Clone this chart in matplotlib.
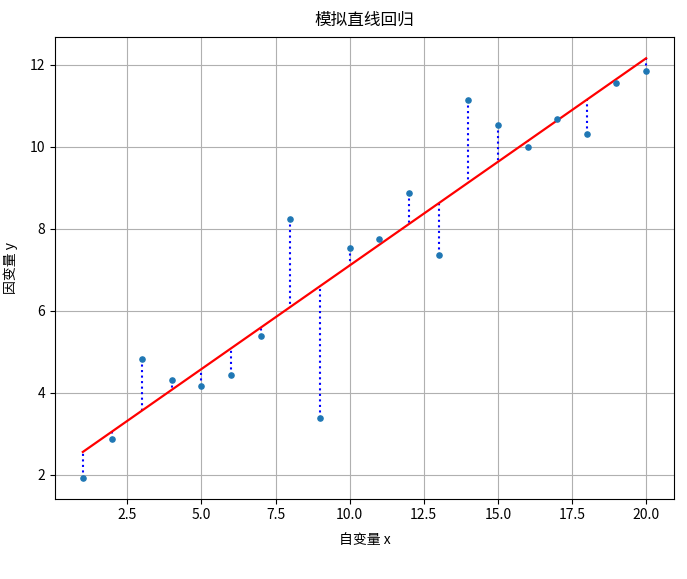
import numpy as np
import matplotlib
matplotlib.use("Agg")
import matplotlib.pyplot as plt

plt.rcParams['font.family'] = ['Noto Sans CJK SC', 'DejaVu Sans']
plt.rcParams['axes.unicode_minus'] = False

x = np.arange(1, 21)
y = np.array([1.93, 2.88, 4.83, 4.31, 4.17, 4.44, 5.38, 8.24, 3.38, 7.54,
              7.75, 8.88, 7.36, 11.13, 10.52, 9.98, 10.68, 10.30, 11.56, 11.85])

title = "模拟直线回归"
xlabel = "自变量 x"
ylabel = "因变量 y"

slope, intercept = np.polyfit(x, y, 1)
y_fit = slope * x + intercept

fig = plt.figure(figsize=(6.87, 5.79), dpi=100)
ax = fig.add_axes([0.0796, 0.139, 0.9019, 0.7966])

for xi, yi, fi in zip(x, y, y_fit):
    ax.plot([xi, xi], [yi, fi], 'b:', linewidth=1.5)
ax.plot(x, y_fit, 'r-', linewidth=1.6)
ax.scatter(x, y, s=14, color='#1f77b4', zorder=3)

ax.grid(True, color='#b0b0b0', linewidth=0.8)
ax.set_axisbelow(True)
ax.set_title(title, fontsize=12, pad=9)
ax.set_xlabel(xlabel, fontsize=10, labelpad=8)
ax.set_ylabel(ylabel, fontsize=10, labelpad=8)

fig.savefig("out.png", dpi=100)
